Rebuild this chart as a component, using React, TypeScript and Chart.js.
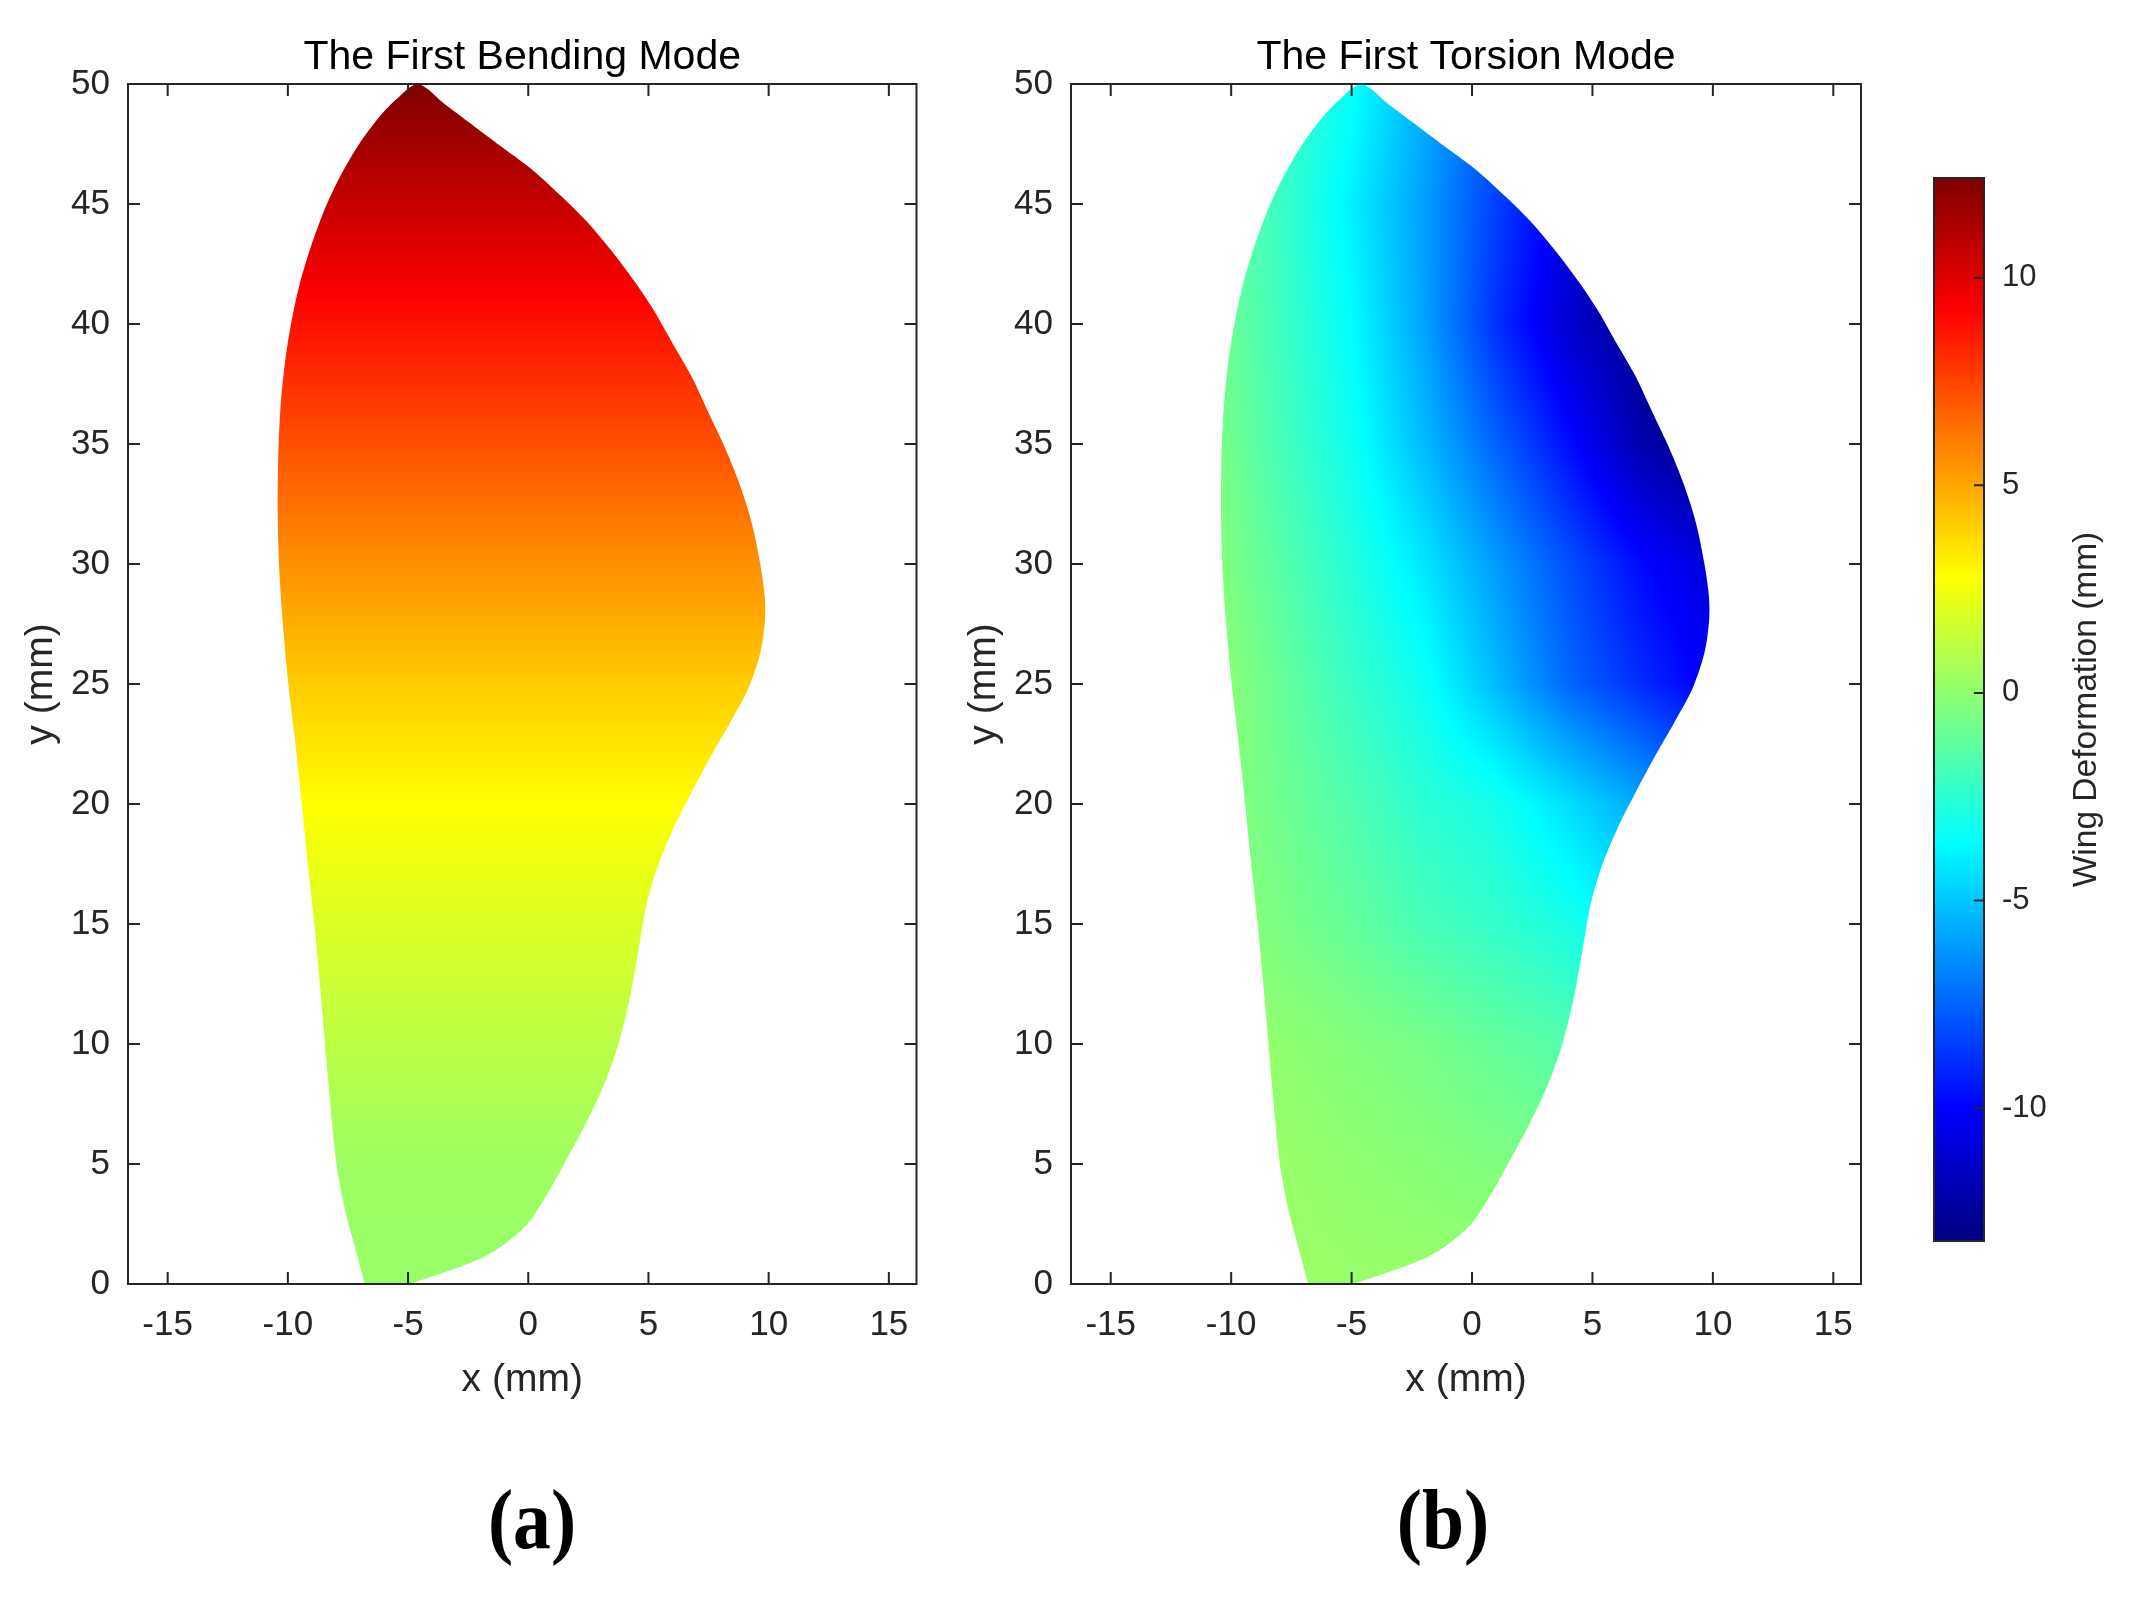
import React, { useEffect, useRef } from 'react';
import { Chart, registerables } from 'chart.js';

Chart.register(...registerables);

// ---------- data ----------
// Wing outline (mm), closed: up the left edge, over the tip, down the right edge
const wingX = [
  -6.8, -7.2, -7.6, -7.95, -8.15, -8.4, -8.65, -8.9, -9.2, -9.45, -9.72, -9.98, -10.2, -10.35,
  -10.42, -10.4, -10.3, -10.12, -9.85, -9.5, -9.05, -8.5, -7.85, -7.1, -6.3, -5.5, -4.6,
  -3.4, -2.2, -1.0, 0.2, 1.4, 2.5, 3.5, 4.4, 5.2, 6.0, 6.8, 7.5, 8.2, 8.8, 9.3, 9.65, 9.84, 9.84,
  9.65, 9.15, 8.4, 7.6, 6.8, 6.0, 5.35, 4.9, 4.55, 4.2, 3.75, 3.15, 2.35, 1.6, 0.85, 0.05,
  -0.8, -1.8, -3.3, -4.4, -5.0,
];
const wingY = [
  0.0, 1.5, 3.0, 4.8, 6.6, 9.4, 12.3, 15.0, 17.8, 20.3, 22.8, 25.0, 27.4, 29.6,
  32.0, 34.5, 36.6, 38.4, 40.1, 41.7, 43.2, 44.7, 46.1, 47.4, 48.5, 49.35, 50.0,
  49.1, 48.2, 47.3, 46.4, 45.3, 44.2, 43.0, 41.8, 40.6, 39.2, 37.8, 36.3, 34.8, 33.3, 31.7, 30.0, 28.6, 27.6,
  26.3, 24.8, 23.4, 22.0, 20.5, 18.9, 17.3, 15.7, 13.7, 11.8, 10.0, 8.3, 6.6, 5.2, 3.85, 2.6,
  1.8, 1.15, 0.55, 0.18, 0.0,
];

const xTicks = [-15, -10, -5, 0, 5, 10, 15];
const yTicks = [0, 5, 10, 15, 20, 25, 30, 35, 40, 45, 50];
const cbTicks = [-10, -5, 0, 5, 10];

// First bending mode: deformation (mm) sampled along the span y (mm)
const bendYs = [0, 5, 10, 15, 20, 25, 30, 35, 40, 45, 50];
const bendVals = [0.2, 0.35, 1.1, 1.9, 2.8, 4.1, 5.6, 7.2, 8.8, 10.6, 12.4];

// First torsion mode: deformation (mm) on a coarse x-y grid
const torsionXs = [-11, -8, -5, -2, 1, 4, 7, 10];
const torsionYs = [0, 5, 10, 15, 20, 25, 30, 35, 40, 45, 50];
const torsionVals = [
  [0.3, 0.3, 0.2, 0.2, 0.1, 0.0, -0.2, -0.4],
  [0.4, 0.2, 0.0, -0.2, -0.4, -0.7, -1.0, -1.3],
  [0.3, 0.0, -0.3, -0.6, -1.1, -1.5, -2.5, -3.2],
  [0.1, -0.5, -1.1, -1.8, -2.3, -3.0, -4.2, -5.0],
  [0.0, -0.8, -1.6, -2.5, -3.1, -4.4, -5.8, -7.5],
  [0.2, -1.0, -2.2, -3.3, -5.3, -7.4, -8.9, -10.3],
  [-0.1, -1.4, -2.7, -4.2, -6.1, -8.0, -9.8, -11.0],
  [-0.3, -1.8, -3.25, -5.3, -7.5, -9.7, -12.0, -13.2],
  [-0.5, -2.0, -3.6, -5.9, -8.8, -11.2, -12.8, -13.2],
  [-0.6, -2.1, -3.95, -6.0, -8.4, -10.6, -12.5, -13.2],
  [-0.5, -2.0, -3.4, -5.6, -7.8, -10.0, -12.0, -13.0],
];

const X_MIN = -16.65;
const X_MAX = 16.15;
const Y_MIN = 0;
const Y_MAX = 50;
const C_MIN = -13.2;
const C_MAX = 12.4;

// ---------- helpers ----------
const FONT = '"Liberation Sans", Arial, Helvetica, sans-serif';
const TXT = '#262626';

const clamp01 = (v: number) => (v < 0 ? 0 : v > 1 ? 1 : v);
function jet(f: number): [number, number, number] {
  f = clamp01(f);
  const r = clamp01(Math.min(4 * f - 1.5, -4 * f + 4.5));
  const g = clamp01(Math.min(4 * f - 0.5, -4 * f + 3.5));
  const b = clamp01(Math.min(4 * f + 0.5, -4 * f + 2.5));
  return [Math.round(r * 255), Math.round(g * 255), Math.round(b * 255)];
}

function locate(xs: number[], x: number): [number, number] {
  const n = xs.length;
  if (x <= xs[0]) return [0, 0];
  if (x >= xs[n - 1]) return [n - 2, 1];
  let i = 0;
  while (x > xs[i + 1]) i++;
  return [i, (x - xs[i]) / (xs[i + 1] - xs[i])];
}

function bendField(_x: number, y: number) {
  const [j, u] = locate(bendYs, y);
  return bendVals[j] * (1 - u) + bendVals[j + 1] * u;
}

function torsionField(x: number, y: number) {
  const [i, t] = locate(torsionXs, x);
  const [j, u] = locate(torsionYs, y);
  const r0 = torsionVals[j];
  const r1 = torsionVals[j + 1];
  const a = r0[i] * (1 - t) + r0[i + 1] * t;
  const b = r1[i] * (1 - t) + r1[i + 1] * t;
  return a * (1 - u) + b * u;
}

function fieldPlugin(field: (x: number, y: number) => number) {
  return {
    id: 'wingField',
    beforeDatasetsDraw(chart: any) {
      const meta = chart.getDatasetMeta(0);
      const pts = meta.data;
      if (!pts || !pts.length) return;
      if (meta.dataset && typeof meta.dataset.updateControlPoints === 'function') {
        meta.dataset.updateControlPoints(chart.chartArea, 'x');
      }
      const xs = chart.scales.x;
      const ys = chart.scales.y;
      const { left, top, right, bottom } = chart.chartArea;
      const x0 = Math.floor(left);
      const y0 = Math.floor(top);
      const w = Math.ceil(right) - x0;
      const h = Math.ceil(bottom) - y0;
      const off = document.createElement('canvas');
      off.width = w;
      off.height = h;
      const octx = off.getContext('2d')!;
      const img = octx.createImageData(w, h);
      const d = img.data;
      const colX = new Float64Array(w);
      for (let px = 0; px < w; px++) colX[px] = xs.getValueForPixel(x0 + px + 0.5);
      for (let py = 0; py < h; py++) {
        const yv = ys.getValueForPixel(y0 + py + 0.5);
        for (let px = 0; px < w; px++) {
          const v = field(colX[px], yv);
          const c = jet((v - C_MIN) / (C_MAX - C_MIN));
          const k = (py * w + px) * 4;
          d[k] = c[0];
          d[k + 1] = c[1];
          d[k + 2] = c[2];
          d[k + 3] = 255;
        }
      }
      octx.putImageData(img, 0, 0);
      const ctx = chart.ctx;
      ctx.save();
      ctx.beginPath();
      pts.forEach((p: any, i: number) => {
        if (i === 0) {
          ctx.moveTo(p.x, p.y);
          return;
        }
        const q = pts[i - 1];
        if (q.cp2x !== undefined && p.cp1x !== undefined && isFinite(q.cp2x) && isFinite(p.cp1x)) {
          ctx.bezierCurveTo(q.cp2x, q.cp2y, p.cp1x, p.cp1y, p.x, p.y);
        } else {
          ctx.lineTo(p.x, p.y);
        }
      });
      ctx.closePath();
      ctx.clip();
      ctx.drawImage(off, x0, y0);
      ctx.restore();
    },
  };
}

const framePlugin = {
  id: 'frame',
  afterDraw(chart: any) {
    const { left, top, right, bottom } = chart.chartArea;
    const ctx = chart.ctx;
    const xs = chart.scales.x;
    const ys = chart.scales.y;
    const tl = 12;
    ctx.save();
    ctx.strokeStyle = TXT;
    ctx.lineWidth = 2;
    ctx.strokeRect(left, top, right - left, bottom - top);
    ctx.beginPath();
    xTicks.forEach((v) => {
      const p = xs.getPixelForValue(v);
      ctx.moveTo(p, bottom);
      ctx.lineTo(p, bottom - tl);
      ctx.moveTo(p, top);
      ctx.lineTo(p, top + tl);
    });
    yTicks.forEach((v) => {
      const p = ys.getPixelForValue(v);
      ctx.moveTo(left, p);
      ctx.lineTo(left + tl, p);
      ctx.moveTo(right, p);
      ctx.lineTo(right - tl, p);
    });
    ctx.stroke();
    ctx.restore();
  },
};

function plotConfig(title: string, field: (x: number, y: number) => number, padRight: number): any {
  return {
    type: 'scatter',
    data: {
      datasets: [
        {
          data: wingX.map((x, i) => ({ x, y: wingY[i] })),
          showLine: true,
          tension: 0.3,
          borderWidth: 0,
          borderColor: 'rgba(0,0,0,0)',
          pointRadius: 0,
          fill: false,
        },
      ],
    },
    options: {
      responsive: false,
      animation: false,
      devicePixelRatio: 1,
      events: [],
      layout: { padding: { left: 0, right: padRight, top: 0, bottom: 0 } },
      plugins: {
        legend: { display: false },
        tooltip: { enabled: false },
        title: {
          display: true,
          fullSize: false,
          text: title,
          color: '#000',
          font: { family: FONT, size: 41, weight: 'normal', lineHeight: 1.2 },
          padding: { top: 33.4, bottom: 1.4 },
        },
      },
      scales: {
        x: {
          type: 'linear',
          min: X_MIN,
          max: X_MAX,
          afterBuildTicks: (s: any) => {
            s.ticks = xTicks.map((v) => ({ value: v }));
          },
          afterFit: (s: any) => {
            s.height = 120;
          },
          grid: { display: false, drawTicks: false },
          border: { display: false },
          ticks: {
            padding: 20,
            color: TXT,
            font: { family: FONT, size: 35 },
            maxRotation: 0,
            autoSkip: false,
          },
          title: {
            display: true,
            text: 'x (mm)',
            color: TXT,
            font: { family: FONT, size: 39, lineHeight: 1.2 },
            padding: { top: 0, bottom: 0.6 },
          },
        },
        y: {
          type: 'linear',
          min: Y_MIN,
          max: Y_MAX,
          afterBuildTicks: (s: any) => {
            s.ticks = yTicks.map((v) => ({ value: v }));
          },
          afterFit: (s: any) => {
            s.width = 128;
          },
          grid: { display: false, drawTicks: false },
          border: { display: false },
          ticks: {
            padding: 18,
            color: TXT,
            font: { family: FONT, size: 35 },
            autoSkip: false,
          },
          title: {
            display: true,
            text: 'y (mm)',
            color: TXT,
            font: { family: FONT, size: 39, lineHeight: 1.2 },
            padding: { top: 17.6, bottom: 0 },
          },
        },
      },
    },
    plugins: [fieldPlugin(field), framePlugin],
  };
}

const colorbarPlugin = {
  id: 'cbFrame',
  afterDraw(chart: any) {
    const { left, top, right, bottom } = chart.chartArea;
    const ctx = chart.ctx;
    const ys = chart.scales.y;
    ctx.save();
    ctx.strokeStyle = TXT;
    ctx.lineWidth = 2;
    ctx.strokeRect(left, top, right - left, bottom - top);
    ctx.beginPath();
    cbTicks.forEach((v) => {
      const p = ys.getPixelForValue(v);
      ctx.moveTo(right, p);
      ctx.lineTo(right - 10, p);
    });
    ctx.stroke();
    ctx.translate(right + 103, (top + bottom) / 2);
    ctx.rotate(-Math.PI / 2);
    ctx.fillStyle = TXT;
    ctx.font = `33.5px ${FONT}`;
    ctx.textAlign = 'center';
    ctx.textBaseline = 'middle';
    ctx.fillText('Wing Deformation (mm)', 0, 0);
    ctx.restore();
  },
};

function colorbarConfig(): any {
  return {
    type: 'bar',
    data: {
      labels: [''],
      datasets: [
        {
          data: [[C_MIN, C_MAX]],
          borderWidth: 0,
          barPercentage: 1,
          categoryPercentage: 1,
          backgroundColor: (ctx: any) => {
            const chart = ctx.chart;
            const ys = chart.scales && chart.scales.y;
            if (!chart.chartArea || !ys) return '#88ff77';
            const g = chart.ctx.createLinearGradient(0, ys.getPixelForValue(C_MIN), 0, ys.getPixelForValue(C_MAX));
            const n = 64;
            for (let k = 0; k <= n; k++) {
              const c = jet(k / n);
              g.addColorStop(k / n, `rgb(${c[0]},${c[1]},${c[2]})`);
            }
            return g;
          },
        },
      ],
    },
    options: {
      responsive: false,
      animation: false,
      devicePixelRatio: 1,
      events: [],
      layout: { padding: { left: 31, right: 0, top: 178, bottom: 358 } },
      plugins: { legend: { display: false }, tooltip: { enabled: false }, title: { display: false } },
      scales: {
        x: { display: false },
        y: {
          position: 'right',
          min: C_MIN,
          max: C_MAX,
          afterBuildTicks: (s: any) => {
            s.ticks = cbTicks.map((v) => ({ value: v }));
          },
          afterFit: (s: any) => {
            s.width = 145;
          },
          grid: { display: false, drawTicks: false },
          border: { display: false },
          ticks: { padding: 18, color: TXT, font: { family: FONT, size: 31 }, autoSkip: false },
        },
      },
    },
    plugins: [colorbarPlugin],
  };
}

const panelLabel = (cx: number): React.CSSProperties => ({
  position: 'absolute',
  left: cx - 100,
  top: 1470,
  width: 200,
  height: 100,
  lineHeight: '100px',
  textAlign: 'center',
  fontFamily: '"Liberation Serif", "Times New Roman", serif',
  fontWeight: 'bold',
  fontSize: 84,
  color: '#000',
  transform: 'scaleX(0.9)',
});

export default function App() {
  const aRef = useRef<HTMLCanvasElement>(null);
  const bRef = useRef<HTMLCanvasElement>(null);
  const cRef = useRef<HTMLCanvasElement>(null);

  useEffect(() => {
    const charts: Chart[] = [];
    if (aRef.current) charts.push(new Chart(aRef.current, plotConfig('The First Bending Mode', bendField, 26.5)));
    if (bRef.current) charts.push(new Chart(bRef.current, plotConfig('The First Torsion Mode', torsionField, 42)));
    if (cRef.current) charts.push(new Chart(cRef.current, colorbarConfig()));
    return () => charts.forEach((c) => c.destroy());
  }, []);

  return (
    <div style={{ position: 'absolute', left: 0, top: 0, width: 2129, height: 1599, background: '#fff', overflow: 'hidden' }}>
      <canvas ref={aRef} width={943} height={1404} style={{ position: 'absolute', left: 0, top: 0, width: 943, height: 1404 }} />
      <canvas ref={bRef} width={960} height={1404} style={{ position: 'absolute', left: 943, top: 0, width: 960, height: 1404 }} />
      <canvas ref={cRef} width={226} height={1599} style={{ position: 'absolute', left: 1903, top: 0, width: 226, height: 1599 }} />
      <div style={panelLabel(532)}>(a)</div>
      <div style={panelLabel(1443)}>(b)</div>
    </div>
  );
}
